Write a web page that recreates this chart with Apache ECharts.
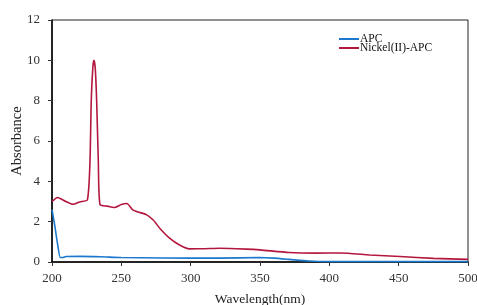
<!DOCTYPE html>
<html>
<head>
<meta charset="utf-8">
<script src="https://cdn.jsdelivr.net/npm/echarts@6/dist/echarts.min.js"></script>
<style>
  html, body { margin: 0; padding: 0; background: #fff; }
  #chart { width: 477px; height: 305px; }
</style>
</head>
<body>
<div id="chart"></div>
<script>
// 波长与吸光度数据
var apcWave = [200, 202, 204, 206, 208, 210, 220, 235, 250, 280, 320, 350, 360, 371, 385, 400, 450, 500];
var apcAbs = [2.6, 1.8, 0.9, 0.22, 0.22, 0.27, 0.28, 0.26, 0.22, 0.2, 0.19, 0.22, 0.19, 0.13, 0.05, 0.02, 0.02, 0.02];

var niWave = [200, 204, 210, 215, 220, 225.5, 227.4, 228.3, 229.5, 230.3, 231.2, 232.2, 233.4, 234.6, 240, 245, 250, 254, 258, 262, 268, 273, 278, 285, 292, 299, 310, 321, 340, 350, 371, 390, 408, 429, 451, 475, 500];
var niAbs = [3.0, 3.2, 3.0, 2.86, 2.98, 3.08, 5.0, 8.0, 9.7, 10.0, 9.6, 8.0, 5.0, 2.85, 2.77, 2.7, 2.85, 2.9, 2.6, 2.48, 2.35, 2.08, 1.65, 1.17, 0.84, 0.65, 0.66, 0.68, 0.64, 0.6, 0.47, 0.44, 0.45, 0.35, 0.27, 0.18, 0.13];

var xTicks = [200, 250, 300, 350, 400, 450, 500];
var yTicks = [0, 2, 4, 6, 8, 10, 12];

function pairs(xs, ys) {
	var out = [];
	for (var i = 0; i < xs.length; i++) {
		out.push([xs[i], ys[i]]);
	}
	return out;
}

var font = 'Liberation Serif';
var myChart = echarts.init(document.getElementById('chart'));
var option = {
	animation: false,
	backgroundColor: '#fff',
	textStyle: { fontFamily: font },
	grid: {
		left: 52, right: 9, top: 20, bottom: 43,
		outerBoundsMode: 'none',
		containLabel: false,
		show: true,
		borderColor: '#222',
		borderWidth: 1
	},
	legend: {
		orient: 'vertical',
		left: 334,
		top: 28,
		itemWidth: 20,
		itemHeight: 2,
		itemGap: -3,
		icon: 'rect',
		textStyle: { fontFamily: font, fontSize: 11.5, color: '#111', padding: [0, 0, 0, -4] },
		data: ['APC', 'Nickel(II)-APC']
	},
	xAxis: {
		type: 'value',
		min: xTicks[0],
		max: xTicks[xTicks.length - 1],
		interval: 50,
		name: 'Wavelength(nm)',
		nameLocation: 'middle',
		nameGap: 30,
		nameMoveOverlap: false,
		nameTextStyle: { fontFamily: font, fontSize: 13.5, color: '#222' },
		axisLine: { lineStyle: { color: '#000', width: 1.5 } },
		axisTick: { inside: false, length: 4, lineStyle: { color: '#333' } },
		axisLabel: { fontFamily: font, fontSize: 13, color: '#333', margin: 10 },
		splitLine: { show: false }
	},
	yAxis: {
		type: 'value',
		min: yTicks[0],
		max: yTicks[yTicks.length - 1],
		interval: 2,
		name: 'Absorbance',
		nameLocation: 'middle',
		nameGap: 27,
		nameMoveOverlap: false,
		nameTextStyle: { fontFamily: font, fontSize: 14.5, color: '#222' },
		axisLine: { show: true, lineStyle: { color: '#000', width: 1.5 } },
		axisTick: { show: true, length: 4, lineStyle: { color: '#333' } },
		axisLabel: { fontFamily: font, fontSize: 13, color: '#333', margin: 12 },
		splitLine: { show: false }
	},
	series: [
		{
			name: 'APC',
			type: 'line',
			data: pairs(apcWave, apcAbs),
			smooth: 0.2,
			showSymbol: false,
			lineStyle: { color: '#1b78cc', width: 1.6 },
			itemStyle: { color: '#1b78cc' }
		},
		{
			name: 'Nickel(II)-APC',
			type: 'line',
			data: pairs(niWave, niAbs),
			smooth: 0.2,
			showSymbol: false,
			lineStyle: { color: '#b3173e', width: 1.6 },
			itemStyle: { color: '#b3173e' }
		}
	]
};
myChart.setOption(option);
</script>
</body>
</html>
